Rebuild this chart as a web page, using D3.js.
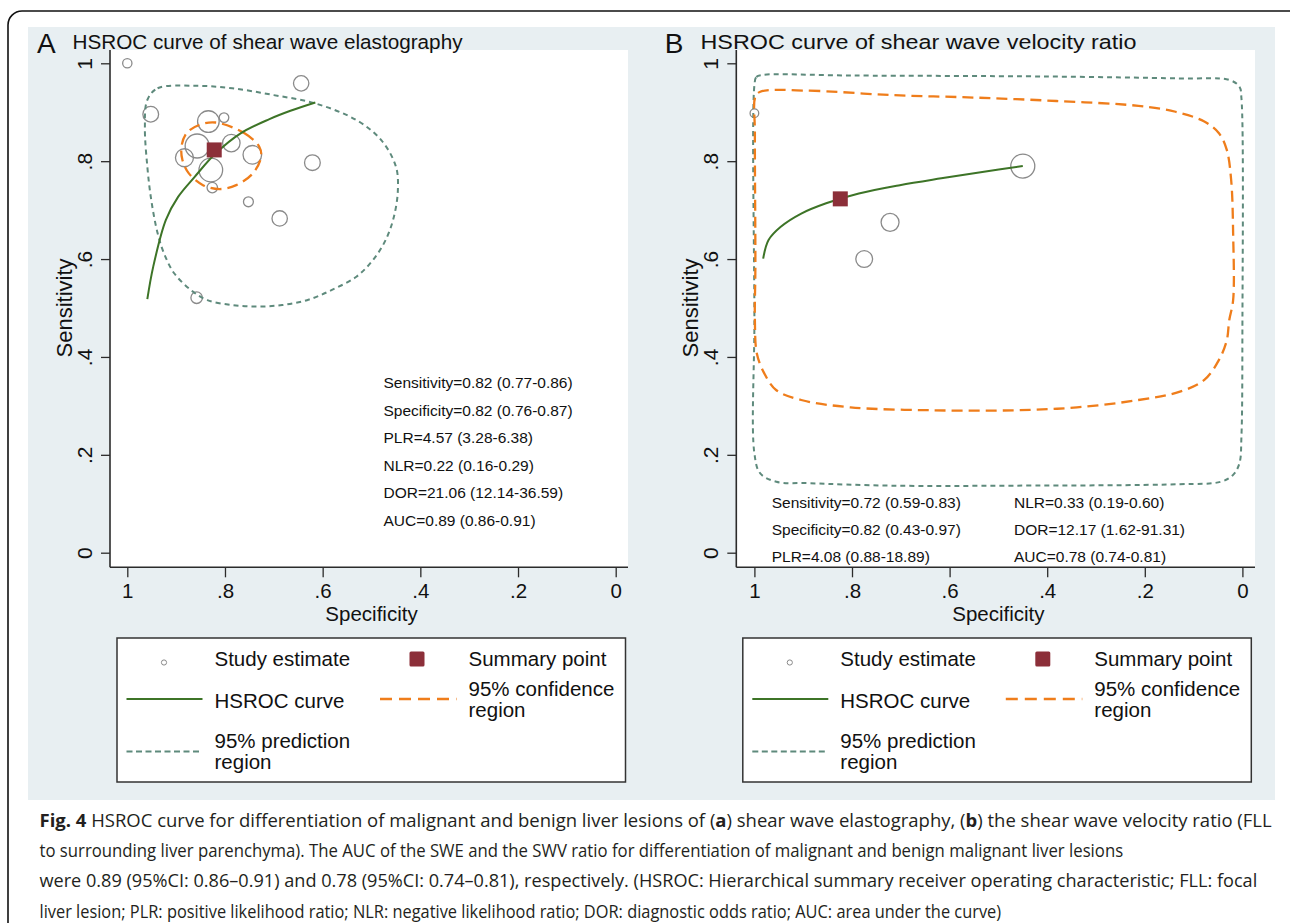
<!DOCTYPE html>
<html>
<head>
<meta charset="utf-8">
<script src="https://cdn.jsdelivr.net/npm/d3@7"></script>
<style>
  body { margin: 0; background: #fff; }
  svg { display: block; font-family: 'Liberation Sans', Arial, sans-serif; }
</style>
</head>
<body>
<div id="figure"></div>
<script>
const width = 1290
const height = 923

const tickValues = [0, 0.2, 0.4, 0.6, 0.8, 1]
const tickLabels = ['0', '.2', '.4', '.6', '.8', '1']
const panelLetters = ['A', 'B']
const panelTitles = ['HSROC curve of shear wave elastography', 'HSROC curve of shear wave velocity ratio']
const legendLabels = [['Study estimate'], ['Summary point'], ['HSROC curve'], ['95% confidence', 'region'], ['95% prediction', 'region']]

// panel A: shear wave elastography
const studySpecA = [1.00, 0.644, 0.952, 0.834, 0.802, 0.857, 0.883, 0.787, 0.744, 0.829, 0.826, 0.621, 0.752, 0.688, 0.858]
const studySensA = [1.00, 0.959, 0.896, 0.881, 0.889, 0.831, 0.807, 0.837, 0.813, 0.782, 0.746, 0.797, 0.717, 0.683, 0.521]
const studyWeightA = [15, 41, 43, 81, 16, 100, 56, 53, 60, 97, 19, 43, 17, 41, 23]
const summaryA = [0.822, 0.823]
const curveSpecA = [0.959, 0.947, 0.921, 0.896, 0.862, 0.819, 0.768, 0.709, 0.666, 0.615]
const curveSensA = [0.518, 0.584, 0.680, 0.727, 0.768, 0.816, 0.857, 0.886, 0.903, 0.920]
const confSpecA = [0.819, 0.760, 0.730, 0.726, 0.743, 0.777, 0.811, 0.845, 0.874, 0.887, 0.889, 0.879, 0.853]
const confSensA = [0.879, 0.857, 0.830, 0.809, 0.775, 0.751, 0.743, 0.751, 0.775, 0.802, 0.830, 0.857, 0.874]
const predSpecA = [0.959, 0.938, 0.862, 0.785, 0.700, 0.615, 0.531, 0.480, 0.450, 0.446, 0.454, 0.471, 0.497, 0.531, 0.581, 0.632, 0.683, 0.734, 0.785, 0.836, 0.870, 0.904, 0.925, 0.938, 0.951, 0.959, 0.964]
const predSensA = [0.925, 0.949, 0.954, 0.949, 0.935, 0.918, 0.884, 0.843, 0.789, 0.741, 0.687, 0.639, 0.598, 0.564, 0.537, 0.516, 0.506, 0.503, 0.506, 0.516, 0.537, 0.571, 0.612, 0.653, 0.721, 0.789, 0.870]
const statsA = ['Sensitivity=0.82 (0.77-0.86)', 'Specificity=0.82 (0.76-0.87)', 'PLR=4.57 (3.28-6.38)', 'NLR=0.22 (0.16-0.29)', 'DOR=21.06 (12.14-36.59)', 'AUC=0.89 (0.86-0.91)']

// panel B: shear wave velocity ratio
const studySpecB = [1.00, 0.450, 0.722, 0.775]
const studySensB = [0.898, 0.790, 0.675, 0.600]
const studyWeightB = [13, 100, 56, 49]
const summaryB = [0.824, 0.723]
const curveSpecB = [0.982, 0.971, 0.946, 0.904, 0.853, 0.786, 0.702, 0.617, 0.533, 0.450]
const curveSensB = [0.601, 0.639, 0.666, 0.693, 0.714, 0.734, 0.751, 0.765, 0.778, 0.790]
const confSpecB = [0.988, 0.887, 0.718, 0.550, 0.381, 0.213, 0.137, 0.078, 0.048, 0.032, 0.023, 0.019, 0.019, 0.027, 0.032, 0.048, 0.078, 0.128, 0.213, 0.339, 0.466, 0.634, 0.803, 0.904, 0.955, 0.980, 0.995, 0.999, 0.998, 0.999, 0.998]
const confSensB = [0.942, 0.944, 0.935, 0.930, 0.923, 0.913, 0.901, 0.881, 0.857, 0.823, 0.761, 0.653, 0.516, 0.475, 0.434, 0.394, 0.353, 0.329, 0.312, 0.297, 0.291, 0.291, 0.297, 0.312, 0.332, 0.367, 0.407, 0.475, 0.584, 0.857, 0.932]
const predSpecB = [1.000, 0.996, 0.985, 0.800, 0.400, 0.128, 0.027, 0.006, 0.002, 0.000, 0.002, 0.006, 0.019, 0.044, 0.128, 0.466, 0.718, 0.887, 0.955, 0.988, 1.000, 1.000]
const predSensB = [0.955, 0.972, 0.976, 0.975, 0.973, 0.969, 0.966, 0.952, 0.929, 0.455, 0.237, 0.183, 0.159, 0.145, 0.140, 0.137, 0.137, 0.142, 0.145, 0.162, 0.203, 0.475]
const statsB = ['Sensitivity=0.72 (0.59-0.83)', 'Specificity=0.82 (0.43-0.97)', 'PLR=4.08 (0.88-18.89)', 'NLR=0.33 (0.19-0.60)', 'DOR=12.17 (1.62-91.31)', 'AUC=0.78 (0.74-0.81)']

const captionLines = [
  [['Fig. 4', true], [' HSROC curve for differentiation of malignant and benign liver lesions of (', false], ['a', true], [') shear wave elastography, (', false], ['b', true], [') the shear wave velocity ratio (FLL', false]],
  [['to surrounding liver parenchyma). The AUC of the SWE and the SWV ratio for differentiation of malignant and benign malignant liver lesions', false]],
  [['were 0.89 (95%CI: 0.86\u20130.91) and 0.78 (95%CI: 0.74\u20130.81), respectively. (HSROC: Hierarchical summary receiver operating characteristic; FLL: focal', false]],
  [['liver lesion; PLR: positive likelihood ratio; NLR: negative likelihood ratio; DOR: diagnostic odds ratio; AUC: area under the curve)', false]]
]
const captionWidths = [1233, 1085, 1219, 962]

const bgColor = '#e8eff2'
const axisColor = '#2b2b2b'
const textColor = '#111'
const curveColor = '#3d7427'
const confColor = '#ef7d1b'
const predColor = '#5e8a7c'
const summaryColor = '#8c2f39'
const studyColor = '#8a8a8a'

const svg = d3.select('#figure')
  .append('svg')
  .attr('width', width)
  .attr('height', height)

svg.append('rect')
  .attr('x', 8).attr('y', 11)
  .attr('width', 1300).attr('height', 1000)
  .attr('rx', 14)
  .attr('fill', '#fff')
  .attr('stroke', '#111')
  .attr('stroke-width', 1.6)

svg.append('rect')
  .attr('x', 28).attr('y', 27)
  .attr('width', 1247).attr('height', 773)
  .attr('fill', bgColor)

const zip = (a, b) => a.map((v, i) => [v, b[i]])

const panels = [
  {
    letter: panelLetters[0], title: panelTitles[0], axisX: 110, plotRight: 628, xRange: [127.3, 615.7], titleWidth: 390, letterX: 37, titleX: 72.5,
    studies: studySpecA.map((s, i) => ({ spec: s, sens: studySensA[i], w: studyWeightA[i] })),
    summary: summaryA, curve: zip(curveSpecA, curveSensA), conf: zip(confSpecA, confSensA), pred: zip(predSpecA, predSensA),
    stats: statsA, legendX: 117
  },
  {
    letter: panelLetters[1], title: panelTitles[1], axisX: 736.3, plotRight: 1255, xRange: [754.4, 1242.4], titleWidth: 436, letterX: 664.7, titleX: 700.5,
    studies: studySpecB.map((s, i) => ({ spec: s, sens: studySensB[i], w: studyWeightB[i] })),
    summary: summaryB, curve: zip(curveSpecB, curveSensB), conf: zip(confSpecB, confSensB), pred: zip(predSpecB, predSensB),
    stats: statsB, legendX: 742.8
  }
]

const y = d3.scaleLinear().domain([0, 1]).range([552.7, 63.3])
const radius = d3.scaleSqrt().domain([0, 100]).range([0, 12])
const plotTop = 50
const plotBottom = 567.3

panels.forEach((p, pi) => {
  const x = d3.scaleLinear().domain([1, 0]).range(p.xRange)
  const g = svg.append('g').attr('class', 'panel')

  g.append('rect')
    .attr('x', p.axisX).attr('y', plotTop)
    .attr('width', p.plotRight - p.axisX).attr('height', plotBottom - plotTop)
    .attr('fill', '#fff')

  // titles
  g.append('text')
    .attr('x', p.letterX).attr('y', 53)
    .attr('font-size', 28).attr('fill', textColor)
    .text(p.letter)
  g.append('text')
    .attr('x', p.titleX).attr('y', 49)
    .attr('font-size', 20.5).attr('fill', textColor)
    .attr('textLength', p.titleWidth).attr('lengthAdjust', 'spacingAndGlyphs')
    .text(p.title)

  // axes
  const yAxis = d3.axisLeft(y)
    .tickValues(tickValues)
    .tickFormat((d, i) => tickLabels[i])
    .tickSize(9)
    .tickSizeOuter(0)
  const yg = g.append('g').attr('transform', `translate(${p.axisX},0)`).call(yAxis)
  yg.select('.domain').remove()
  yg.attr('font-family', null).attr('font-size', null)
  yg.selectAll('.tick line').attr('stroke', axisColor).attr('stroke-width', 1.3)
  yg.selectAll('.tick text')
    .attr('x', null).attr('dy', null)
    .attr('text-anchor', 'middle')
    .attr('transform', 'translate(-18,0) rotate(-90)')
    .attr('font-size', 21)
    .attr('fill', textColor)

  const xAxis = d3.axisBottom(x)
    .tickValues(tickValues)
    .tickFormat((d) => tickLabels[tickValues.indexOf(d)])
    .tickSize(10)
    .tickSizeOuter(0)
  const xg = g.append('g').attr('transform', `translate(0,${plotBottom})`).call(xAxis)
  xg.select('.domain').remove()
  xg.attr('font-family', null).attr('font-size', null)
  xg.selectAll('.tick line').attr('stroke', axisColor).attr('stroke-width', 1.3)
  xg.selectAll('.tick text')
    .attr('y', 31).attr('dy', null)
    .attr('font-size', 20.5)
    .attr('fill', textColor)

  g.append('line')
    .attr('x1', p.axisX).attr('x2', p.axisX)
    .attr('y1', plotTop).attr('y2', plotBottom)
    .attr('stroke', axisColor).attr('stroke-width', 1.6)
  g.append('line')
    .attr('x1', p.axisX).attr('x2', p.plotRight)
    .attr('y1', plotBottom).attr('y2', plotBottom)
    .attr('stroke', axisColor).attr('stroke-width', 1.6)

  g.append('text')
    .attr('text-anchor', 'middle')
    .attr('transform', `translate(${p.axisX - 38},${(y(0) + y(1)) / 2}) rotate(-90)`)
    .attr('font-size', 22).attr('fill', textColor)
    .text('Sensitivity')
  g.append('text')
    .attr('text-anchor', 'middle')
    .attr('x', (x(0) + x(1)) / 2).attr('y', 621)
    .attr('font-size', 20.5).attr('fill', textColor)
    .text('Specificity')

  // marks
  g.selectAll('circle.study')
    .data(p.studies)
    .enter()
    .append('circle')
    .attr('class', 'study')
    .attr('cx', (d) => x(d.spec))
    .attr('cy', (d) => y(d.sens))
    .attr('r', (d) => radius(d.w))
    .attr('fill', 'none')
    .attr('stroke', studyColor)
    .attr('stroke-width', 1.3)

  const closed = d3.line()
    .x((d) => x(d[0]))
    .y((d) => y(d[1]))
    .curve(d3.curveCatmullRomClosed.alpha(0.5))
  const open = d3.line()
    .x((d) => x(d[0]))
    .y((d) => y(d[1]))
    .curve(d3.curveCatmullRom.alpha(0.5))

  g.append('path')
    .attr('d', closed(p.pred))
    .attr('fill', 'none')
    .attr('stroke', predColor)
    .attr('stroke-width', 2)
    .attr('stroke-dasharray', '5,4')
  g.append('path')
    .attr('d', closed(p.conf))
    .attr('fill', 'none')
    .attr('stroke', confColor)
    .attr('stroke-width', 2.3)
    .attr('stroke-dasharray', '11,6')
  g.append('path')
    .attr('d', open(p.curve))
    .attr('fill', 'none')
    .attr('stroke', curveColor)
    .attr('stroke-width', 2)
  g.append('rect')
    .attr('x', x(p.summary[0]) - 7.5)
    .attr('y', y(p.summary[1]) - 7.5)
    .attr('width', 15).attr('height', 15)
    .attr('fill', summaryColor)

  // summary statistics
  const stats = g.append('g').attr('font-size', 15.5).attr('fill', textColor)
  if (pi === 0) {
    stats.selectAll('text')
      .data(p.stats)
      .enter()
      .append('text')
      .attr('x', 383.5)
      .attr('y', (d, i) => 388 + i * 27.5)
      .text((d) => d)
  } else {
    stats.selectAll('text')
      .data(p.stats)
      .enter()
      .append('text')
      .attr('x', (d, i) => i < 3 ? 771.7 : 1014)
      .attr('y', (d, i) => 507.5 + (i % 3) * 27)
      .text((d) => d)
  }

  // legend
  const lg = g.append('g').attr('transform', `translate(${p.legendX},0)`)
  lg.append('rect')
    .attr('x', 0).attr('y', 638)
    .attr('width', 508.5).attr('height', 144)
    .attr('fill', '#fff')
    .attr('stroke', '#333')
    .attr('stroke-width', 1.5)
  lg.append('circle')
    .attr('cx', 47).attr('cy', 662.5).attr('r', 2.6)
    .attr('fill', 'none').attr('stroke', studyColor).attr('stroke-width', 1)
  lg.append('rect')
    .attr('x', 292.5).attr('y', 651.5).attr('width', 15).attr('height', 15)
    .attr('rx', 1.5)
    .attr('fill', summaryColor)
  lg.append('line')
    .attr('x1', 9.5).attr('x2', 85.5).attr('y1', 699).attr('y2', 699)
    .attr('stroke', curveColor).attr('stroke-width', 2)
  lg.append('line')
    .attr('x1', 263).attr('x2', 339.5).attr('y1', 699).attr('y2', 699)
    .attr('stroke', confColor).attr('stroke-width', 2.3).attr('stroke-dasharray', '12,7')
  lg.append('line')
    .attr('x1', 9.5).attr('x2', 85.5).attr('y1', 751.5).attr('y2', 751.5)
    .attr('stroke', predColor).attr('stroke-width', 2).attr('stroke-dasharray', '6,3.5')

  const labelPos = [[97.5, 665.5], [351.5, 665.5], [97.5, 708], [351.5, 695.5], [97.5, 747.5]]
  legendLabels.forEach((lines, li) => {
    const t = lg.append('text')
      .attr('x', labelPos[li][0]).attr('y', labelPos[li][1])
      .attr('font-size', 20.5).attr('fill', textColor)
    lines.forEach((line, k) => {
      t.append('tspan')
        .attr('x', labelPos[li][0])
        .attr('dy', k === 0 ? 0 : 21)
        .text(line)
    })
  })
})

// caption: each line squeezed horizontally to the width it has in the figure
const caption = svg.append('g')
  .attr('font-family', "'Open Sans', 'Noto Sans', sans-serif")
  .attr('font-size', 18.5)
  .attr('fill', '#231f20')

captionLines.forEach((segments, i) => {
  const t = caption.append('text')
    .attr('x', 0)
    .attr('y', 0)
  segments.forEach((s) => {
    t.append('tspan')
      .attr('font-weight', s[1] ? 'bold' : null)
      .text(s[0])
  })
  const squeeze = captionWidths[i] / t.node().getComputedTextLength()
  t.attr('transform', `translate(39.5,${827 + i * 30.2}) scale(${squeeze},1)`)
})
</script>
</body>
</html>
